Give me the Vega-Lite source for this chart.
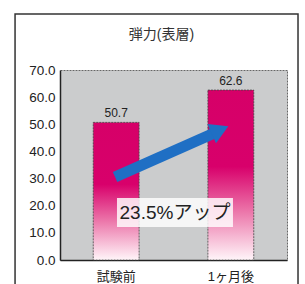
{
  "$schema": "https://vega.github.io/schema/vega-lite/v6.json",
  "width": 227,
  "height": 190,
  "autosize": {"type": "none"},
  "padding": {"left": 60, "top": 70, "right": 18, "bottom": 24},
  "background": "white",
  "config": {
    "font": "Liberation Sans, Noto Sans CJK JP",
    "view": {"fill": "#cbcccd", "stroke": "#666666", "strokeDash": [2, 1], "strokeWidth": 1},
    "axisY": {"title": null, "values": [0, 10, 20, 30, 40, 50, 60, 70], "format": ".1f", "ticks": false, "labelPadding": 5, "labelFontSize": 13.5, "labelColor": "#222222", "domainColor": "#222222", "domainWidth": 1.5, "grid": false}
  },
  "title": {"text": "弾力(表層)", "fontSize": 14, "fontWeight": "normal", "color": "#333333", "offset": 0, "dy": 29, "dx": -12, "font": "Liberation Sans, Noto Sans CJK JP"},
  "datasets": {
    "bars": [{"cat": "試験前", "value": 50.7}, {"cat": "1ヶ月後", "value": 62.6}],
    "arrow": [{"px": 0.485, "py": 30.6}, {"px": 1.36, "py": 46.8}],
    "head": [{"px": 1.41, "py": 47.9}],
    "box": [{"px1": 0.502, "px2": 1.524, "py1": 12.2, "py2": 22.8, "label": "23.5%アップ", "tx": 1.013, "ty": 17.3}],
    "frame": [{"x1": -0.396, "x2": 2.097, "y1": -13, "y2": 90.6}]
  },
  "layer": [
    {
      "data": {"name": "bars"},
      "encoding": {
        "x": {"field": "cat", "type": "nominal", "sort": null,
          "scale": {"paddingInner": 0.6, "paddingOuter": 0.29},
          "axis": {"title": null, "labelAngle": 0, "ticks": false, "labelPadding": 10, "labelFontSize": 13, "labelColor": "#222222", "domainColor": "#222222", "domainWidth": 1.5, "grid": false}},
        "y": {"field": "value", "type": "quantitative",
          "scale": {"domain": [0, 70], "nice": false},
          "axis": {"title": null, "values": [0, 10, 20, 30, 40, 50, 60, 70], "format": ".1f"}}
      },
      "layer": [
        {"mark": {"type": "bar", "color": {"gradient": "linear", "x1": 0, "y1": 0, "x2": 0, "y2": 1,
          "stops": [{"offset": 0, "color": "#d60068"}, {"offset": 0.45, "color": "#d8006b"}, {"offset": 0.72, "color": "#ec78ab"}, {"offset": 1, "color": "#fff5f9"}]},
          "stroke": "#444444", "strokeWidth": 0.8, "strokeDash": [2, 1]}},
        {"mark": {"type": "text", "baseline": "middle", "dy": -9, "fontSize": 12, "color": "#222222"},
          "encoding": {"text": {"field": "value", "type": "quantitative", "format": ".1f"}}}
      ]
    },
    {
      "layer": [
        {"data": {"name": "arrow"},
          "mark": {"type": "line", "color": "#1f6fc4", "strokeWidth": 11, "strokeCap": "butt"},
          "encoding": {
            "x": {"field": "px", "type": "quantitative", "scale": {"domain": [0, 2], "nice": false, "zero": false}, "axis": null},
            "y": {"field": "py", "type": "quantitative", "scale": {"domain": [0, 70], "nice": false}, "axis": {"title": null, "values": [0, 10, 20, 30, 40, 50, 60, 70], "format": ".1f"}}
          }},
        {"data": {"name": "head"},
          "mark": {"type": "point", "shape": "triangle-right", "filled": true, "color": "#1f6fc4", "opacity": 1, "size": 441, "angle": -24},
          "encoding": {
            "x": {"field": "px", "type": "quantitative", "scale": {"domain": [0, 2], "nice": false, "zero": false}, "axis": null},
            "y": {"field": "py", "type": "quantitative", "scale": {"domain": [0, 70], "nice": false}, "axis": {"title": null, "values": [0, 10, 20, 30, 40, 50, 60, 70], "format": ".1f"}}
          }},
        {"data": {"name": "box"},
          "mark": {"type": "rect", "color": "#ffffff", "opacity": 0.82},
          "encoding": {
            "x": {"field": "px1", "type": "quantitative", "scale": {"domain": [0, 2], "nice": false, "zero": false}, "axis": null},
            "x2": {"field": "px2"},
            "y": {"field": "py1", "type": "quantitative", "scale": {"domain": [0, 70], "nice": false}, "axis": {"title": null, "values": [0, 10, 20, 30, 40, 50, 60, 70], "format": ".1f"}},
            "y2": {"field": "py2"}
          }},
        {"data": {"name": "box"},
          "mark": {"type": "text", "fontSize": 19, "color": "#222222", "baseline": "middle", "align": "center"},
          "encoding": {
            "x": {"field": "tx", "type": "quantitative", "scale": {"domain": [0, 2], "nice": false, "zero": false}, "axis": null},
            "y": {"field": "ty", "type": "quantitative", "scale": {"domain": [0, 70], "nice": false}, "axis": {"title": null, "values": [0, 10, 20, 30, 40, 50, 60, 70], "format": ".1f"}},
            "text": {"field": "label"}
          }},
        {"data": {"name": "frame"},
          "mark": {"type": "rect", "fillOpacity": 0, "stroke": "#333333", "strokeWidth": 1.5},
          "encoding": {
            "x": {"field": "x1", "type": "quantitative", "scale": {"domain": [0, 2], "nice": false, "zero": false}, "axis": null},
            "x2": {"field": "x2"},
            "y": {"field": "y1", "type": "quantitative", "scale": {"domain": [0, 70], "nice": false}, "axis": {"title": null, "values": [0, 10, 20, 30, 40, 50, 60, 70], "format": ".1f"}},
            "y2": {"field": "y2"}
          }}
      ]
    }
  ],
  "resolve": {"scale": {"x": "independent"}}
}
